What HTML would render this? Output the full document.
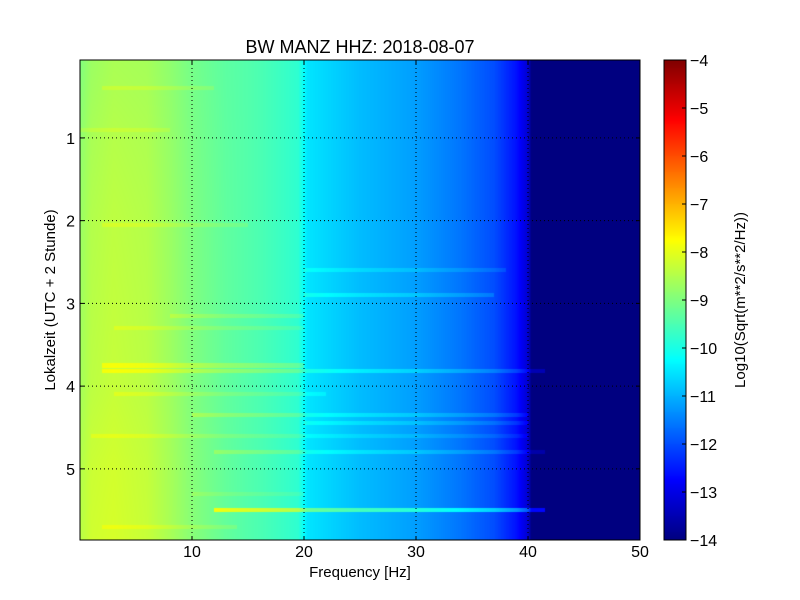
<!DOCTYPE html>
<html><head><meta charset="utf-8"><style>
body{margin:0;background:#fff;width:800px;height:600px;overflow:hidden;position:relative;font-family:"Liberation Sans",sans-serif}
canvas{position:absolute}
svg{position:absolute;left:0;top:0}
text{font-family:"Liberation Sans",sans-serif;fill:#000}
</style></head><body>
<canvas id="hm" width="560" height="480" style="left:80px;top:60px"></canvas>
<canvas id="cb" width="22" height="480" style="left:664px;top:60px"></canvas>
<svg id="ov" width="800" height="600">
<text x="360" y="53" font-size="18" text-anchor="middle">BW MANZ HHZ: 2018-08-07</text>
<text x="360" y="577" font-size="15" text-anchor="middle">Frequency [Hz]</text>
<text transform="translate(55,300) rotate(-90)" font-size="15" text-anchor="middle">Lokalzeit (UTC + 2 Stunde)</text>
<text transform="translate(745,300) rotate(-90)" font-size="15" text-anchor="middle">Log10(Sqrt(m**2/s**2/Hz))</text>
</svg>
<script>
const freqs=[0,1,3,6,8,10,13,16,19.5,20.3,25,30,34,37,39,40,40.3,50];
const levels=[-8.7,-8.45,-8.35,-8.45,-8.7,-9.0,-9.3,-9.5,-9.8,-10.5,-10.9,-11.2,-11.6,-12.0,-12.6,-13.2,-14,-14];
const lowTimes=[0,1,2,3,4,5,5.86];
const lowOffsets=[-0.3,-0.15,-0.05,0,0.05,0.2,0.25];
// streaks: [time(h), fStart, fEnd, delta]
const streakTimes=[0.4,0.9,2.05,2.6,2.9,3.15,3.3,3.75,3.82,4.1,4.35,4.45,4.6,4.8,5.3,5.5,5.7];
const streakF0=[2,0,2,20,20,8,3,2,2,3,10,20,1,12,10,12,2];
const streakF1=[12,8,15,38,37,20,20,20,42,22,40,40,40,42,20,44,14];
const streakDelta=[0.25,0.2,0.25,0.3,0.4,0.3,0.25,0.5,0.5,0.25,0.4,0.35,0.25,0.4,0.2,1.3,0.25];
const cbTicks=[-4,-5,-6,-7,-8,-9,-10,-11,-12,-13,-14];
const xTicks=[10,20,30,40,50];
const yTicks=[1,2,3,4,5];
const X0=80,W=560,Y0=60,H=480,FMAX=50,T0=0.058,T1=5.86,VMIN=-14,VMAX=-4;
const xs=f=>X0+f/FMAX*W, ys=t=>Y0+(t-T0)/(T1-T0)*H;
function interp(xa,ya,x){if(x<=xa[0])return ya[0];for(let i=1;i<xa.length;i++)if(x<=xa[i]){const r=(x-xa[i-1])/(xa[i]-xa[i-1]);return ya[i-1]+r*(ya[i]-ya[i-1]);}return ya[ya.length-1];}
function jet(v){const x=Math.max(0,Math.min(1,(v-VMIN)/(VMAX-VMIN)));const c=a=>Math.round(255*Math.max(0,Math.min(1,1.5-Math.abs(4*x-a))));return [c(3),c(2),c(1)];}
const ctx=document.getElementById('hm').getContext('2d');
const img=ctx.createImageData(W,H);
for(let py=0;py<H;py++){const t=T0+(py+0.5)/H*(T1-T0);const lo=interp(lowTimes,lowOffsets,t);
 for(let px=0;px<W;px++){const f=(px+0.5)/W*FMAX;let v=interp(freqs,levels,f);
  if(f<15)v+=lo*(1-f/15);
  for(let k=0;k<streakTimes.length;k++){if(Math.abs(t-streakTimes[k])<0.025&&f>=streakF0[k]&&f<=streakF1[k]&&f<41.5)v+=streakDelta[k];}
  const c=jet(v);const i=(py*W+px)*4;img.data[i]=c[0];img.data[i+1]=c[1];img.data[i+2]=c[2];img.data[i+3]=255;}}
ctx.putImageData(img,0,0);
const cb=document.getElementById('cb').getContext('2d');
for(let py=0;py<H;py++){const c=jet(VMAX-(py+0.5)/H*(VMAX-VMIN));cb.fillStyle=`rgb(${c})`;cb.fillRect(0,py,22,1);}
const ov=document.getElementById('ov');const NS='http://www.w3.org/2000/svg';
function el(tag,attrs,txt){const e=document.createElementNS(NS,tag);for(const k in attrs)e.setAttribute(k,attrs[k]);if(txt!==undefined)e.textContent=txt;ov.appendChild(e);return e;}
xTicks.forEach(f=>{const x=xs(f);
 const g=el('line',{x1:x,x2:x,y1:Y0,y2:Y0+H,stroke:'#000','stroke-dasharray':'1,3','stroke-width':1});
 
 
 el('line',{x1:x,x2:x,y1:Y0+H,y2:Y0+H-4,stroke:'#000'});
 el('line',{x1:x,x2:x,y1:Y0,y2:Y0+4,stroke:'#000'});
 const t=el('text',{x:x,y:557,'font-size':16,'text-anchor':'middle'},String(f));
 
 });
yTicks.forEach(v=>{const y=ys(v);
 const g=el('line',{x1:X0,x2:X0+W,y1:y,y2:y,stroke:'#000','stroke-dasharray':'1,3','stroke-width':1});
 
 
 el('line',{x1:X0,x2:X0+4,y1:y,y2:y,stroke:'#000'});
 el('line',{x1:X0+W,x2:X0+W-4,y1:y,y2:y,stroke:'#000'});
 const t=el('text',{x:75,y:y+6,'font-size':16,'text-anchor':'end'},String(v));
 
 });
cbTicks.forEach(v=>{const y=Y0+(VMAX-v)/(VMAX-VMIN)*H;
 el('line',{x1:682,x2:686,y1:y,y2:y,stroke:'#000'});
 const t=el('text',{x:690,y:y+6,'font-size':16},'\u2212'+Math.abs(v));
 
 });
const f1=el('rect',{x:X0,y:Y0,width:W,height:H,fill:'none',stroke:'#000'});


const f2=el('rect',{x:664,y:Y0,width:22,height:H,fill:'none',stroke:'#000'});


</script>
</body></html>
